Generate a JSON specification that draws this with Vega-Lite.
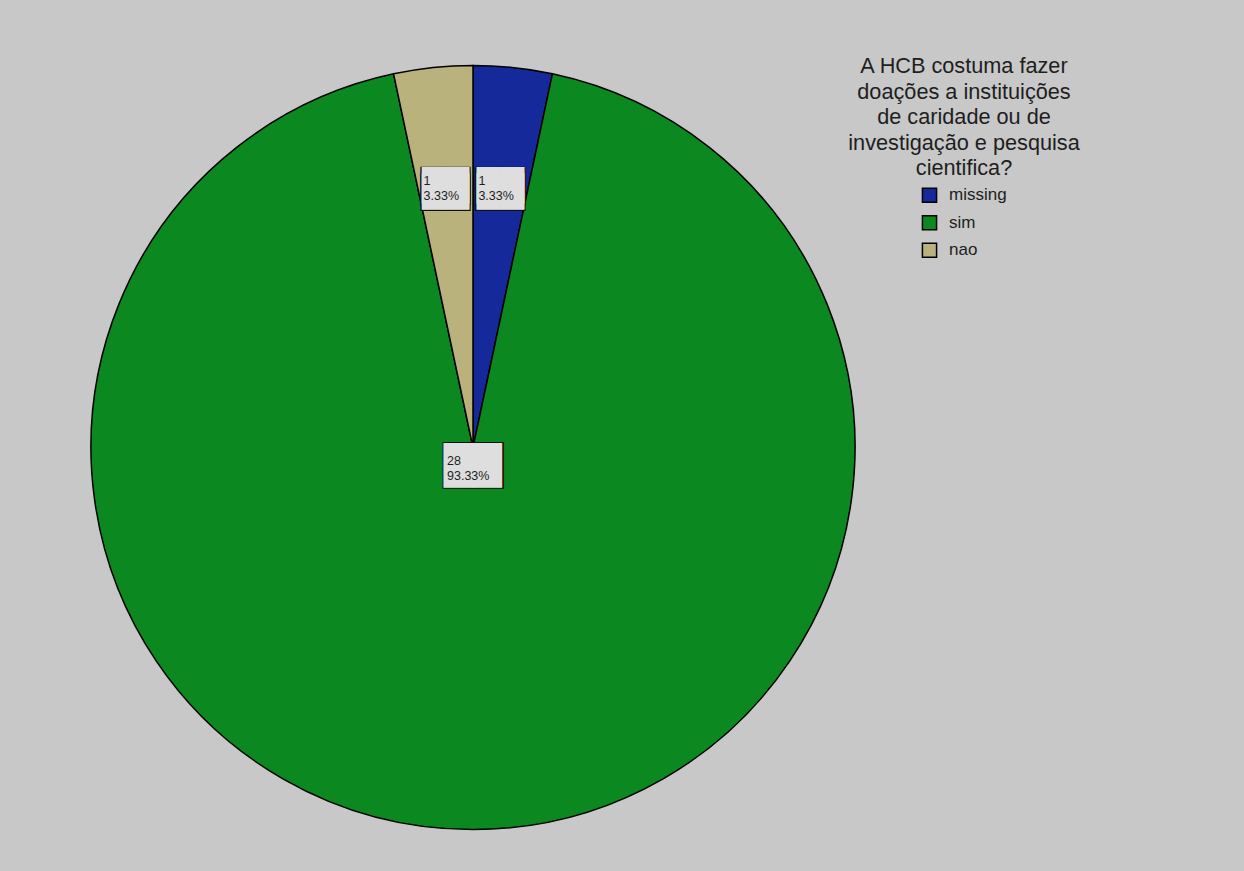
{
  "$schema": "https://vega.github.io/schema/vega-lite/v6.json",
  "width": 760,
  "height": 785,
  "autosize": "none",
  "padding": {"left": 93, "top": 55, "right": 391, "bottom": 31},
  "background": "#c8c8c8",
  "config": {"view": {"stroke": null}, "font": "Liberation Sans"},
  "data": {"values": [
    {"cat": "missing", "n": 1, "ord": 1, "lbl": "1\n3.33%"},
    {"cat": "sim", "n": 28, "ord": 2, "lbl": "28\n93.33%"},
    {"cat": "nao", "n": 1, "ord": 3, "lbl": "1\n3.33%"}
  ]},
  "encoding": {
    "theta": {"field": "n", "type": "quantitative", "stack": true},
    "order": {"field": "ord", "type": "quantitative"}
  },
  "layer": [
    {
      "mark": {"type": "arc", "outerRadius": 382, "stroke": "black", "strokeWidth": 1.5},
      "encoding": {
        "color": {
          "field": "cat", "type": "nominal",
          "scale": {"domain": ["missing", "sim", "nao"], "range": ["#16299a", "#0b881f", "#bab27c"]},
          "legend": {
            "title": ["A HCB costuma fazer", "doações a instituições", "de caridade ou de", "investigação e pesquisa", "cientifica?"],
            "orient": "none", "legendX": 755, "legendY": 1,
            "padding": 0,
            "titleFont": "Liberation Sans", "titleFontSize": 21.7, "titleFontWeight": "normal", "titleColor": "#1e1e1e",
            "titleLineHeight": 25.5, "titleAlign": "center", "titleAnchor": "middle", "titlePadding": 7, "titleLimit": 600,
            "labelFont": "Liberation Sans", "labelFontSize": 17, "labelColor": "#1e1e1e", "labelOffset": 11,
            "symbolType": "square", "symbolSize": 200, "symbolStrokeColor": "black", "symbolStrokeWidth": 1.5,
            "symbolOffset": 0, "rowPadding": 6.5
          }
        }
      }
    },
    {
      "mark": {"type": "text", "radius": 262, "font": "DejaVu Sans", "fontSize": 32.4, "lineHeight": 6, "lineBreak": "\n", "align": "center", "baseline": "middle", "dy": 0.4, "color": "#111111"},
      "encoding": {"text": {"condition": {"test": "datum.cat !== 'sim'", "value": "██\n██"}, "value": ""}}
    },
    {
      "mark": {"type": "text", "radius": 262, "font": "DejaVu Sans", "fontSize": 30.8, "lineHeight": 6, "lineBreak": "\n", "align": "center", "baseline": "middle", "dy": 0.3, "color": "#dedede"},
      "encoding": {"text": {"condition": {"test": "datum.cat !== 'sim'", "value": "██\n██"}, "value": ""}}
    },
    {
      "mark": {"type": "text", "radius": 262, "fontSize": 12.5, "lineHeight": 15, "lineBreak": "\n", "align": "left", "baseline": "middle", "dx": -22, "dy": -6, "color": "#1e1e1e"},
      "encoding": {"text": {"condition": {"test": "datum.cat !== 'sim'", "field": "lbl"}, "value": ""}}
    },
    {
      "mark": {"type": "text", "radius": 19, "font": "DejaVu Sans", "fontSize": 39.4, "align": "center", "baseline": "middle", "dy": 0.8, "color": "#111111"},
      "encoding": {"text": {"condition": {"test": "datum.cat === 'sim'", "value": "██"}, "value": ""}}
    },
    {
      "mark": {"type": "text", "radius": 19, "font": "DejaVu Sans", "fontSize": 37.7, "align": "center", "baseline": "middle", "dy": 0.6, "color": "#dedede"},
      "encoding": {"text": {"condition": {"test": "datum.cat === 'sim'", "value": "██"}, "value": ""}}
    },
    {
      "mark": {"type": "text", "radius": 19, "fontSize": 12.5, "lineHeight": 15, "lineBreak": "\n", "align": "left", "baseline": "middle", "dx": -26, "dy": -6, "color": "#1e1e1e"},
      "encoding": {"text": {"condition": {"test": "datum.cat === 'sim'", "field": "lbl"}, "value": ""}}
    }
  ]
}
